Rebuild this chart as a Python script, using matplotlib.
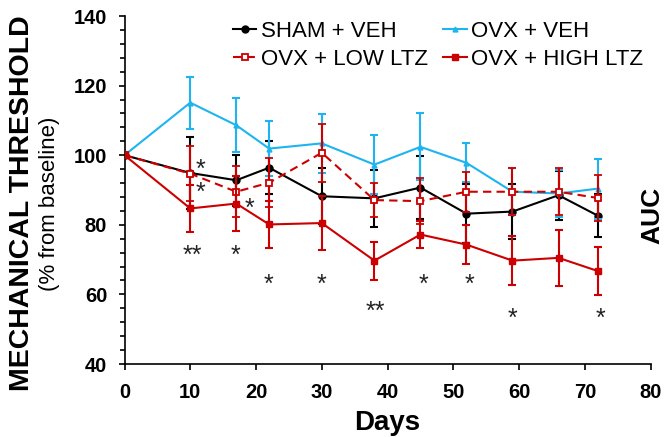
import matplotlib
matplotlib.use("Agg")
import matplotlib.pyplot as plt
from matplotlib.ticker import MultipleLocator
from matplotlib.lines import Line2D

plt.rcParams['font.family'] = ['Liberation Sans', 'DejaVu Sans']

# ---- data ----
days = [0, 10, 17, 22, 30, 38, 45, 52, 59, 66, 72]
sham_veh = [100, 94.9, 92.8, 96.4, 88.2, 87.6, 90.7, 83.2, 83.8, 88.5, 82.6]
sham_veh_err = [0, 10.4, 7.4, 7.6, 8.0, 8.2, 9.0, 8.5, 7.8, 7.0, 6.2]
ovx_veh = [100, 115.1, 108.6, 101.9, 103.4, 97.3, 102.4, 97.8, 89.5, 89.0, 90.4]
ovx_veh_err = [0, 7.5, 7.7, 8.0, 8.4, 8.4, 9.6, 5.6, 6.7, 6.7, 8.6]
ovx_low = [100, 94.7, 89.5, 92.1, 100.7, 87.1, 86.8, 89.5, 89.5, 89.5, 87.7]
ovx_low_err = [0, 8.0, 7.3, 7.0, 8.4, 5.0, 6.6, 5.7, 6.7, 6.7, 6.6]
ovx_high = [100, 84.7, 86.1, 80.1, 80.5, 69.7, 77.2, 74.3, 69.7, 70.5, 66.7]
ovx_high_err = [0, 6.7, 8.0, 6.8, 7.7, 5.5, 4.0, 5.6, 7.0, 8.0, 7.0]

labels = ["SHAM + VEH", "OVX + VEH", "OVX + LOW LTZ", "OVX + HIGH LTZ"]

# significance marks (day, value, text)
star_x = [11.5, 11.5, 19.0, 10.3, 16.9, 21.9, 29.9, 38.1, 45.4, 52.4, 59.0, 72.4]
star_y = [98.1, 91.4, 86.9, 73.3, 73.3, 65.1, 65.1, 57.4, 65.1, 65.1, 55.3, 55.3]
star_t = ["*", "*", "*", "**", "*", "*", "*", "**", "*", "*", "*", "*"]

x_ticks = [0, 10, 20, 30, 40, 50, 60, 70, 80]
y_ticks = [40, 60, 80, 100, 120, 140]

BLACK = "#000000"
BLUE = "#1EB4F0"
RED = "#CC0000"

fig = plt.figure(figsize=(6.65, 4.37), dpi=100)
ax = fig.add_axes([124.5 / 665, 1 - 364 / 437, (650.6 - 124.5) / 665, (364 - 16) / 437])

common = dict(lw=1.5, elinewidth=1.5, capsize=3.2, capthick=1.5)
st_black = dict(color=BLACK, marker='o', ms=5, mfc=BLACK, mec=BLACK)
st_blue = dict(color=BLUE, marker='^', ms=3.5, mfc=BLUE, mec=BLUE)
st_low = dict(color=RED, marker='s', ms=4.5, mfc='white', mec=RED, mew=1.3, ls=(0, (4, 2.5)))
st_high = dict(color=RED, marker='s', ms=4.5, mfc=RED, mec=RED)

ax.errorbar(days, sham_veh, yerr=sham_veh_err, zorder=3, **st_black, **common)
ax.errorbar(days, ovx_veh, yerr=ovx_veh_err, zorder=4, **st_blue, **common)
ax.errorbar(days, ovx_low, yerr=ovx_low_err, zorder=5, **st_low, **common)
ax.errorbar(days, ovx_high, yerr=ovx_high_err, zorder=6, **st_high, **common)

for sx, sy, st in zip(star_x, star_y, star_t):
    ax.text(sx, sy - 4.3, st, fontsize=18, ha='center', va='baseline', color='#222222')

ax.set_xlim(0, 80)
ax.set_ylim(40, 140)
ax.set_xticks(x_ticks)
ax.set_yticks(y_ticks)
ax.yaxis.set_minor_locator(MultipleLocator(4))
ax.spines['top'].set_visible(False)
ax.spines['right'].set_visible(False)
for s in ['left', 'bottom']:
    ax.spines[s].set_linewidth(1.2)
ax.tick_params(axis='both', which='major', direction='out', length=4.5, width=1.2,
               labelsize=14.5)
ax.tick_params(axis='y', which='minor', direction='out', length=3.5, width=1.2)
ax.tick_params(axis='x', pad=9)
ax.tick_params(axis='y', pad=8)
for lab in ax.get_xticklabels() + ax.get_yticklabels():
    lab.set_fontweight('bold')

handles = [Line2D([], [], lw=1.5, **st_black),
           Line2D([], [], lw=1.5, **st_low),
           Line2D([], [], lw=1.5, **st_blue),
           Line2D([], [], lw=1.5, **st_high)]
leg_labels = [labels[0], labels[2], labels[1], labels[3]]
leg = fig.legend(handles, leg_labels, ncol=2, loc='upper left',
                 bbox_to_anchor=(233 / 665, 1 - 21 / 437), frameon=False,
                 fontsize=16, handlelength=1.05, handletextpad=0.2,
                 columnspacing=0.7, labelspacing=0.3, borderpad=0, borderaxespad=0)

fig.text(22 / 665, 1 - 203 / 437, "MECHANICAL THRESHOLD", rotation=90, fontsize=20.5,
         fontweight='bold', ha='center', va='center')
fig.text(50 / 665, 1 - 204 / 437, "(% from baseline)", rotation=90, fontsize=16,
         ha='center', va='center')
fig.text(387.5 / 665, 1 - 430 / 437, "Days", fontsize=20, fontweight='bold',
         ha='center', va='baseline')
fig.text(664 / 665, 1 - 215 / 437, "AUC", rotation=90, fontsize=19, fontweight='bold',
         ha='right', va='center')

fig.savefig("out.png", dpi=100)
